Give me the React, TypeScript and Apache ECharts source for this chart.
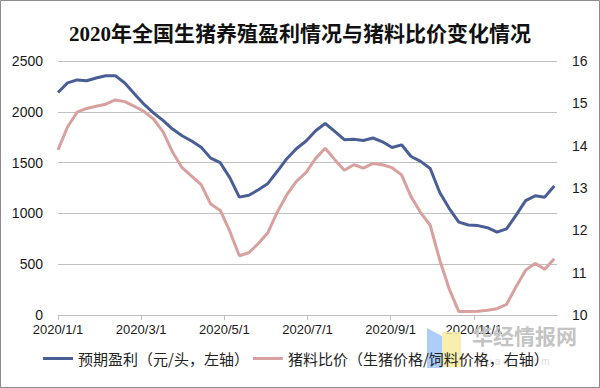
import React, { useEffect, useRef } from "react";
import * as echarts from "echarts";

const titleText = "2020年全国生猪养殖盈利情况与猪料比价变化情况";
const seriesNames = ["预期盈利（元/头，左轴）", "猪料比价（生猪价格/饲料价格，右轴）"];
const xTickLabels = ["2020/1/1", "2020/3/1", "2020/5/1", "2020/7/1", "2020/9/1", "2020/11/1", ""];

const dates = [
  "2020-01-01", "2020-01-08", "2020-01-15", "2020-01-22", "2020-01-29",
  "2020-02-05", "2020-02-12", "2020-02-19", "2020-02-26",
  "2020-03-04", "2020-03-11", "2020-03-18", "2020-03-25",
  "2020-04-01", "2020-04-08", "2020-04-15", "2020-04-22", "2020-04-29",
  "2020-05-06", "2020-05-13", "2020-05-20", "2020-05-27",
  "2020-06-03", "2020-06-10", "2020-06-17", "2020-06-24",
  "2020-07-01", "2020-07-08", "2020-07-15", "2020-07-22", "2020-07-29",
  "2020-08-05", "2020-08-12", "2020-08-19", "2020-08-26",
  "2020-09-02", "2020-09-09", "2020-09-16", "2020-09-23", "2020-09-30",
  "2020-10-07", "2020-10-14", "2020-10-21", "2020-10-28",
  "2020-11-04", "2020-11-11", "2020-11-18", "2020-11-25",
  "2020-12-02", "2020-12-09", "2020-12-16", "2020-12-23", "2020-12-30",
];

const profit = [
  2190, 2285, 2314, 2306, 2333, 2355, 2356, 2284, 2178, 2075, 1990, 1915, 1830,
  1764, 1712, 1651, 1544, 1499, 1352, 1160, 1178, 1233, 1295, 1417, 1541, 1639,
  1713, 1814, 1885, 1807, 1725, 1730, 1718, 1742, 1705, 1648, 1675, 1560, 1512,
  1442, 1206, 1048, 914, 886, 880, 859, 815, 848, 983, 1126, 1173, 1160, 1270,
];

const ratio = [
  13.9, 14.44, 14.79, 14.88, 14.93, 14.98, 15.08, 15.04, 14.93, 14.81, 14.63, 14.33, 13.85,
  13.48, 13.28, 13.08, 12.62, 12.47, 11.98, 11.4, 11.47, 11.69, 11.95, 12.44, 12.85, 13.16,
  13.37, 13.7, 13.94, 13.67, 13.42, 13.55, 13.47, 13.58, 13.55, 13.48, 13.31, 12.79, 12.42,
  12.12, 11.3, 10.61, 10.08, 10.08, 10.09, 10.11, 10.15, 10.25, 10.67, 11.06, 11.22, 11.08, 11.33,
];

const DAY = 86400000;
const start = Date.parse("2020-01-01T00:00:00Z");
const dayIndex = (d: string) => Math.round((Date.parse(d + "T00:00:00Z") - start) / DAY);

const BLUE = "#4a5e96";
const PINK = "#d8a09e";
const LABEL_FONT = "'Liberation Sans', Arial, sans-serif";
const CJK_FONT = "'Noto Sans CJK SC', sans-serif";

export default function App() {
  const ref = useRef<HTMLDivElement>(null);

  useEffect(() => {
    document.body.style.margin = "0";
    const chart = echarts.init(ref.current!, null, { renderer: "svg" });
    chart.setOption({
      animation: false,
      backgroundColor: "#ffffff",
      title: {
        text: titleText,
        left: "center",
        top: 18,
        textStyle: {
          fontSize: 21,
          fontWeight: "bold",
          color: "#111",
          fontFamily: "'Liberation Serif', 'Noto Sans CJK SC', serif",
        },
      },
      grid: { left: 58, right: 43, top: 61, bottom: 73 },
      legend: {
        left: 38,
        top: 346,
        icon: "rect",
        itemWidth: 30,
        itemHeight: 3,
        itemGap: 4,
        textStyle: { fontSize: 15, color: "#222", fontFamily: CJK_FONT },
        data: seriesNames,
      },
      xAxis: {
        type: "value",
        min: 0,
        max: 366,
        interval: 61,
        axisLine: { show: true, lineStyle: { color: "#bfbfbf", width: 1 } },
        axisTick: { show: true, length: 5, lineStyle: { color: "#bfbfbf" } },
        splitLine: { show: false },
        axisLabel: {
          margin: 8,
          fontSize: 13,
          color: "#1a1a1a",
          fontFamily: LABEL_FONT,
          showMaxLabel: false,
          formatter: (v: number) => xTickLabels[Math.round(v / 61)] ?? "",
        },
      },
      yAxis: [
        {
          type: "value",
          min: 0,
          max: 2500,
          interval: 500,
          axisLine: { show: false },
          axisTick: { show: false },
          splitLine: { show: true, lineStyle: { color: "#c0c0c0", width: 1 } },
          axisLabel: {
            margin: 15,
            fontSize: 14,
            color: "#1a1a1a",
            fontFamily: LABEL_FONT,
            formatter: (v: number) => String(v),
          },
        },
        {
          type: "value",
          min: 10,
          max: 16,
          interval: 1,
          axisLine: { show: false },
          axisTick: { show: false },
          splitLine: { show: false },
          axisLabel: {
            margin: 15,
            fontSize: 14,
            color: "#1a1a1a",
            fontFamily: LABEL_FONT,
            formatter: (v: number) => String(v),
          },
        },
      ],
      series: [
        {
          name: seriesNames[0],
          type: "line",
          yAxisIndex: 0,
          showSymbol: false,
          symbol: "none",
          z: 3,
          color: BLUE,
          lineStyle: { color: BLUE, width: 3 },
          data: dates.map((d, i) => [dayIndex(d), profit[i]]),
        },
        {
          name: seriesNames[1],
          type: "line",
          yAxisIndex: 1,
          showSymbol: false,
          symbol: "none",
          z: 2,
          color: PINK,
          lineStyle: { color: PINK, width: 3 },
          data: dates.map((d, i) => [dayIndex(d), ratio[i]]),
        },
      ],
      graphic: [
        {
          type: "rect",
          shape: { x: 0.5, y: 0.5, width: 599, height: 387 },
          style: { fill: "none", stroke: "#8c8c8c", lineWidth: 1 },
          silent: true,
        },
        {
          type: "polygon",
          shape: { points: [[427, 328], [442, 336], [442, 368], [427, 368]] },
          style: { fill: "#9fc5f8", opacity: 0.85 },
          silent: true,
          z: 1,
        },
        {
          type: "rect",
          shape: { x: 442, y: 332, width: 19, height: 35 },
          style: { fill: "#f7eca0", opacity: 0.85 },
          silent: true,
          z: 1,
        },
        {
          type: "text",
          x: 472,
          y: 324,
          style: {
            text: "华经情报网",
            fill: "#c4c4c4",
            fontSize: 21,
            fontWeight: "bold",
            fontFamily: CJK_FONT,
          },
          silent: true,
          z: 1,
        },
        {
          type: "text",
          x: 478,
          y: 356,
          style: {
            text: "h u a o n . c o m",
            fill: "#dddddd",
            fontSize: 10,
            fontFamily: LABEL_FONT,
          },
          silent: true,
          z: 1,
        },
      ],
    });
    return () => chart.dispose();
  }, []);

  return <div ref={ref} style={{ width: 600, height: 388 }} />;
}
